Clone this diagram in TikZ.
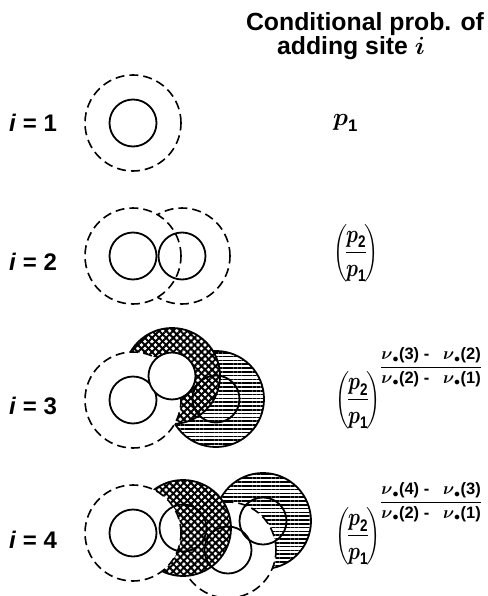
\documentclass[tikz,border=0pt]{standalone}
\usepackage{amsmath,amssymb}
\usepackage{graphicx}
\usepackage{fontspec}
\setmainfont{Liberation Sans}
\usepackage{tikz}
\usetikzlibrary{patterns.meta}

\tikzset{
  site/.style={line width=1.8pt},
  shell/.style={line width=1.6pt, dash pattern=on 9pt off 5pt},
  newshell/.style={line width=1.8pt},
  xhatch/.style={fill=white,
    postaction={pattern={Lines[angle=45,distance=5pt,line width=2pt]}},
    postaction={pattern={Lines[angle=-45,distance=5pt,line width=2pt]}}},
  hhatch/.style={fill=white,
    postaction={pattern={Lines[distance=3.8pt,line width=1.7pt]}}},
  heading/.style={font=\fontsize{24.8}{30}\selectfont\bfseries, inner sep=0pt},
  rowlabel/.style={font=\fontsize{24}{28}\selectfont\bfseries, anchor=base west, inner sep=0pt},
  prob/.style={font=\fontsize{24}{28}\selectfont, anchor=west, inner sep=0pt},
  expo/.style={font=\fontsize{16.5}{19}\selectfont, anchor=west, inner sep=0pt}
}
\newcommand{\nuocc}[1]{\boldsymbol{\nu}_{\bullet}\textbf{(#1)}}
\newcommand{\pratio}{\scalebox{0.8}[1]{$\left(\mkern-2mu\dfrac{\boldsymbol{p}_{\textbf{2}}}{\boldsymbol{p}_{\textbf{1}}}\mkern-2mu\right)$}}
\newcommand{\expdiff}[4]{\dfrac{\nuocc{#1}\text{\bfseries\ -\ \ \ }\nuocc{#2}}{\nuocc{#3}\text{\bfseries\ -\ \ \ }\nuocc{#4}}}

\begin{document}
\begin{tikzpicture}[x=1pt, y=-1pt]
\useasboundingbox (0,0) rectangle (487,596);

% heading
\node[heading] (title1) at (365,24) {Conditional prob. of};
\node[heading] (title2) at (351,48) {adding site $\boldsymbol{i}$};

% i = 1
\coordinate (a1) at (133,123);
\draw[shell] (a1) circle (48pt);
\draw[site] (a1) circle (23.5pt);
\node[rowlabel] (lab1) at (9,132) {\textit{i} = 1};
\node[prob, anchor=base west] (f1) at (333,126) {$\boldsymbol{p}_{\textbf{1}}$};

% i = 2
\coordinate (b1) at (133,256);
\coordinate (b2) at (182,256);
\draw[shell, fill=white] (b2) circle (48pt);
\draw[shell, fill=white] (b1) circle (48pt);
\draw[site] (b1) circle (23.5pt);
\draw[site] (b2) circle (23.5pt);
\node[rowlabel] (lab2) at (9,270) {\textit{i} = 2};
\node[prob] (f2) at (333,253) {\pratio};

% i = 3
\coordinate (c1) at (133,400);
\coordinate (c2) at (172,376);
\coordinate (c3) at (216,399);
\draw[newshell, hhatch] (c3) circle (48pt);
\draw[newshell, xhatch] (c2) circle (48pt);
\draw[shell, fill=white] (c1) circle (48pt);
\draw[site] (c1) circle (23.5pt);
\draw[site, fill=white] (c2) circle (23.5pt);
\draw[site] (c3) circle (23.5pt);
\node[rowlabel] (lab3) at (9,414) {\textit{i} = 3};
\node[prob] (f3) at (335,400) {\pratio};
\node[expo] (e3) at ([xshift=-1pt, yshift=33pt]f3.east) {$\expdiff{3}{2}{2}{1}$};

% i = 4
\coordinate (d1) at (133,533);
\coordinate (d2) at (183,528);
\coordinate (d3) at (228,550);
\coordinate (d4) at (263,521);
\draw[newshell, hhatch] (d4) circle (48pt);
\draw[shell, fill=white] (d3) circle (48pt);
\draw[newshell, xhatch] (d2) circle (48pt);
\draw[shell, fill=white] (d1) circle (48pt);
\foreach \s in {d1,d2,d3,d4}
  \draw[site] (\s) circle (23.5pt);
\node[rowlabel] (lab4) at (9,548) {\textit{i} = 4};
\node[prob] (f4) at (335,536) {\pratio};
\node[expo] (e4) at ([xshift=-1pt, yshift=34pt]f4.east) {$\expdiff{4}{3}{2}{1}$};
\end{tikzpicture}
\end{document}
